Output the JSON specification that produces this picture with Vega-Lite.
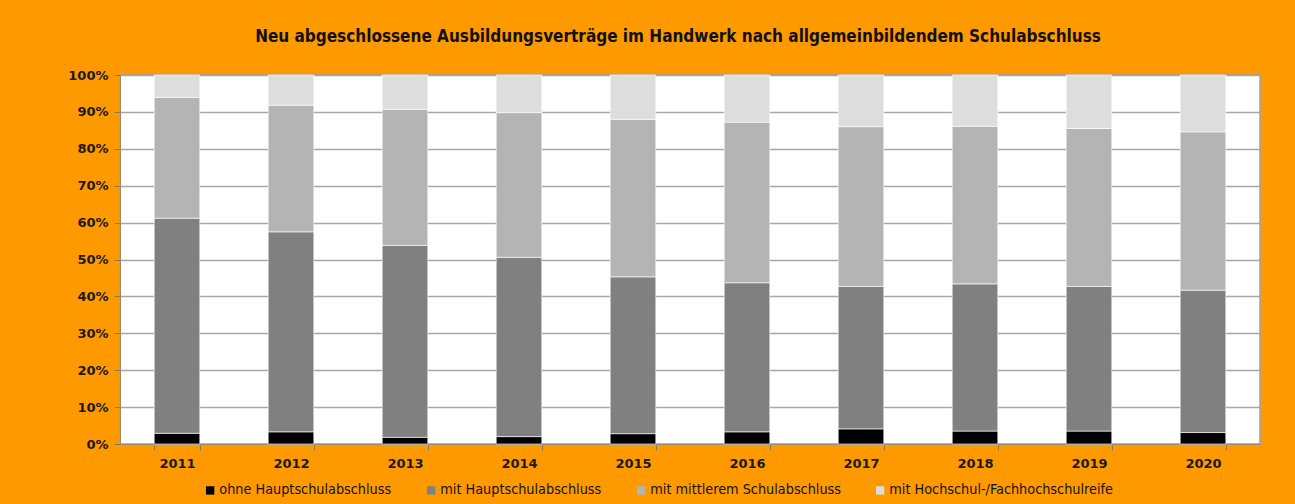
{
  "$schema": "https://vega.github.io/schema/vega-lite/v6.json",
  "width": 1140,
  "height": 369,
  "autosize": {"type": "none"},
  "padding": {"left": 120, "top": 75, "right": 35, "bottom": 60},
  "background": "#ff9900",
  "title": {
    "text": "Neu abgeschlossene Ausbildungsverträge im Handwerk nach allgemeinbildendem Schulabschluss",
    "font": "Liberation Sans Narrow, DejaVu Sans Condensed, sans-serif",
    "fontSize": 17,
    "fontWeight": "bold",
    "color": "#111111",
    "anchor": "middle",
    "offset": 23,
    "dx": -12
  },
  "data": {
    "values": [
      {"year": "2011", "cat": "ohne Hauptschulabschluss", "v": 0.029},
      {"year": "2011", "cat": "mit Hauptschulabschluss", "v": 0.583},
      {"year": "2011", "cat": "mit mittlerem Schulabschluss", "v": 0.327},
      {"year": "2011", "cat": "mit Hochschul-/Fachhochschulreife", "v": 0.061},
      {"year": "2012", "cat": "ohne Hauptschulabschluss", "v": 0.033},
      {"year": "2012", "cat": "mit Hauptschulabschluss", "v": 0.542},
      {"year": "2012", "cat": "mit mittlerem Schulabschluss", "v": 0.343},
      {"year": "2012", "cat": "mit Hochschul-/Fachhochschulreife", "v": 0.082},
      {"year": "2013", "cat": "ohne Hauptschulabschluss", "v": 0.018},
      {"year": "2013", "cat": "mit Hauptschulabschluss", "v": 0.520},
      {"year": "2013", "cat": "mit mittlerem Schulabschluss", "v": 0.369},
      {"year": "2013", "cat": "mit Hochschul-/Fachhochschulreife", "v": 0.093},
      {"year": "2014", "cat": "ohne Hauptschulabschluss", "v": 0.020},
      {"year": "2014", "cat": "mit Hauptschulabschluss", "v": 0.486},
      {"year": "2014", "cat": "mit mittlerem Schulabschluss", "v": 0.392},
      {"year": "2014", "cat": "mit Hochschul-/Fachhochschulreife", "v": 0.102},
      {"year": "2015", "cat": "ohne Hauptschulabschluss", "v": 0.028},
      {"year": "2015", "cat": "mit Hauptschulabschluss", "v": 0.425},
      {"year": "2015", "cat": "mit mittlerem Schulabschluss", "v": 0.427},
      {"year": "2015", "cat": "mit Hochschul-/Fachhochschulreife", "v": 0.120},
      {"year": "2016", "cat": "ohne Hauptschulabschluss", "v": 0.033},
      {"year": "2016", "cat": "mit Hauptschulabschluss", "v": 0.404},
      {"year": "2016", "cat": "mit mittlerem Schulabschluss", "v": 0.435},
      {"year": "2016", "cat": "mit Hochschul-/Fachhochschulreife", "v": 0.128},
      {"year": "2017", "cat": "ohne Hauptschulabschluss", "v": 0.041},
      {"year": "2017", "cat": "mit Hauptschulabschluss", "v": 0.386},
      {"year": "2017", "cat": "mit mittlerem Schulabschluss", "v": 0.433},
      {"year": "2017", "cat": "mit Hochschul-/Fachhochschulreife", "v": 0.140},
      {"year": "2018", "cat": "ohne Hauptschulabschluss", "v": 0.035},
      {"year": "2018", "cat": "mit Hauptschulabschluss", "v": 0.399},
      {"year": "2018", "cat": "mit mittlerem Schulabschluss", "v": 0.427},
      {"year": "2018", "cat": "mit Hochschul-/Fachhochschulreife", "v": 0.139},
      {"year": "2019", "cat": "ohne Hauptschulabschluss", "v": 0.035},
      {"year": "2019", "cat": "mit Hauptschulabschluss", "v": 0.392},
      {"year": "2019", "cat": "mit mittlerem Schulabschluss", "v": 0.428},
      {"year": "2019", "cat": "mit Hochschul-/Fachhochschulreife", "v": 0.145},
      {"year": "2020", "cat": "ohne Hauptschulabschluss", "v": 0.031},
      {"year": "2020", "cat": "mit Hauptschulabschluss", "v": 0.386},
      {"year": "2020", "cat": "mit mittlerem Schulabschluss", "v": 0.429},
      {"year": "2020", "cat": "mit Hochschul-/Fachhochschulreife", "v": 0.154}
    ]
  },
  "transform": [
    {"calculate": "indexof(['ohne Hauptschulabschluss', 'mit Hauptschulabschluss', 'mit mittlerem Schulabschluss', 'mit Hochschul-/Fachhochschulreife'], datum.cat)", "as": "stackOrder"}
  ],
  "mark": {"type": "bar", "stroke": "#ffffff", "strokeWidth": 1, "strokeOpacity": 0.6},
  "encoding": {
    "x": {
      "field": "year",
      "type": "nominal",
      "scale": {"paddingInner": 0.6, "paddingOuter": 0.3},
      "axis": {
        "title": null,
        "labelAngle": 0,
        "tickBand": "extent",
        "tickSize": 6,
        "labelPadding": 7,
        "domainColor": "#9a8a70",
        "tickColor": "#8a7a60",
        "grid": false
      }
    },
    "y": {
      "field": "v",
      "type": "quantitative",
      "stack": "zero",
      "scale": {"domain": [0, 1], "nice": false},
      "axis": {
        "title": null,
        "format": ".0%",
        "values": [0, 0.1, 0.2, 0.3, 0.4, 0.5, 0.6, 0.7, 0.8, 0.9, 1],
        "tickSize": 6,
        "labelPadding": 6,
        "domainColor": "#9a8a70",
        "tickColor": "#8a7a60",
        "grid": true,
        "gridColor": "#a6a6a6",
        "gridWidth": 1.5
      }
    },
    "order": {"field": "stackOrder", "type": "quantitative", "sort": "ascending"},
    "color": {
      "field": "cat",
      "type": "nominal",
      "sort": ["ohne Hauptschulabschluss", "mit Hauptschulabschluss", "mit mittlerem Schulabschluss", "mit Hochschul-/Fachhochschulreife"],
      "scale": {
        "domain": ["ohne Hauptschulabschluss", "mit Hauptschulabschluss", "mit mittlerem Schulabschluss", "mit Hochschul-/Fachhochschulreife"],
        "range": ["#000000", "#808080", "#b4b4b4", "#dddddd"]
      },
      "legend": {
        "title": null,
        "orient": "none",
        "legendX": 83,
        "legendY": 408,
        "direction": "horizontal",
        "symbolType": "square",
        "symbolSize": 70,
        "symbolStrokeWidth": 0,
        "labelFont": "Liberation Sans Narrow, DejaVu Sans Condensed, sans-serif",
        "labelFontSize": 14.3,
        "labelColor": "#111111",
        "labelOffset": 2,
        "labelLimit": 400,
        "columnPadding": 32
      }
    }
  },
  "config": {
    "view": {"fill": "#ffffff", "stroke": "#a0a0a0", "strokeWidth": 1.5},
    "axis": {
      "labelFont": "DejaVu Sans",
      "labelFontWeight": "bold",
      "labelFontSize": 13,
      "labelColor": "#1a1a1a"
    }
  }
}
